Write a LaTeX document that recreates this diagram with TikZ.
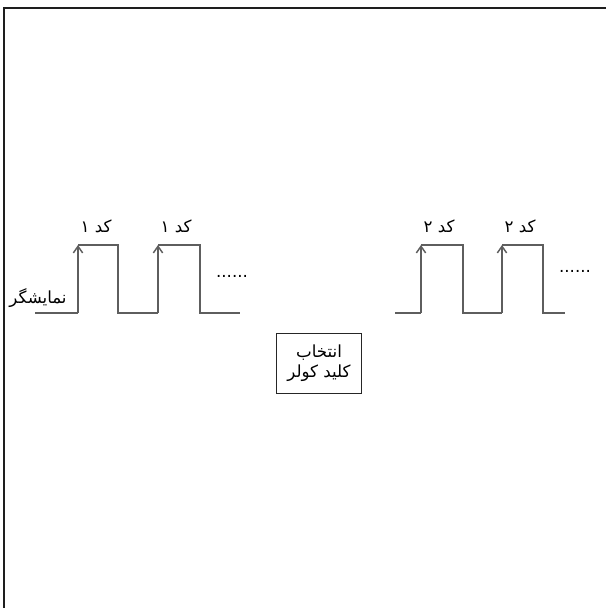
\documentclass[tikz,border=0pt]{standalone}
\usepackage{fontspec}
\newfontfamily\arabicfont[Script=Arabic]{DejaVu Sans}
\TeXXeTstate=1
\usetikzlibrary{arrows.meta, positioning}
\definecolor{waveink}{HTML}{5E5E5E}
\definecolor{frameink}{HTML}{1E1E1E}

\begin{document}
\begin{tikzpicture}[
  x=0.75pt, y=-0.75pt,
  font=\arabicfont\fontsize{12.5}{15}\selectfont,
  wave/.style  = {draw=waveink, line width=1.1pt},
  rise/.style  = {wave, -{Straight Barb[length=5pt, width=7pt, line width=1.1pt]}},
  lbl/.style   = {inner sep=1pt},
  box/.style   = {draw=black!85, line width=0.6pt, minimum width=64pt,
                  minimum height=45pt, align=center, inner sep=2pt},
]
\useasboundingbox (0,0) rectangle (606,608);

% ---- page frame (only top and left edges show)
\draw[frameink, line width=2.2pt] (4,608) -- (4,8) -- (606,8);

% ---- first display signal, code 1
\draw[wave] (35,313) -- (78,313);
\foreach \r/\f/\e [count=\i] in {78/118/158, 158/200/240} {
  \draw[rise] (\r,313) -- (\r,245);
  \draw[wave] (\r,245) -- (\f,245) -- (\f,313) -- (\e,313);
  \node[lbl] (codeA\i) at (\r+18,226) {\beginR کد ۱\endR};
}
\node[lbl] (dotsA) at (232,276) {......};
\node[lbl] (disp) at (38,298) {\beginR نمایشگر\endR};

% ---- second display signal, code 2
\draw[wave] (395,313) -- (421,313);
\foreach \r/\f/\e [count=\i] in {421/463/502, 502/543/565} {
  \draw[rise] (\r,313) -- (\r,245);
  \draw[wave] (\r,245) -- (\f,245) -- (\f,313) -- (\e,313);
  \node[lbl] (codeB\i) at (\r+18,226) {\beginR کد ۲\endR};
}
\node[lbl] (dotsB) at (575,271) {......};

% ---- cooler key selector
\node[box] (select) at (319,363)
  {\beginR انتخاب\endR\\\beginR کلید کولر\endR};

\end{tikzpicture}
\end{document}
